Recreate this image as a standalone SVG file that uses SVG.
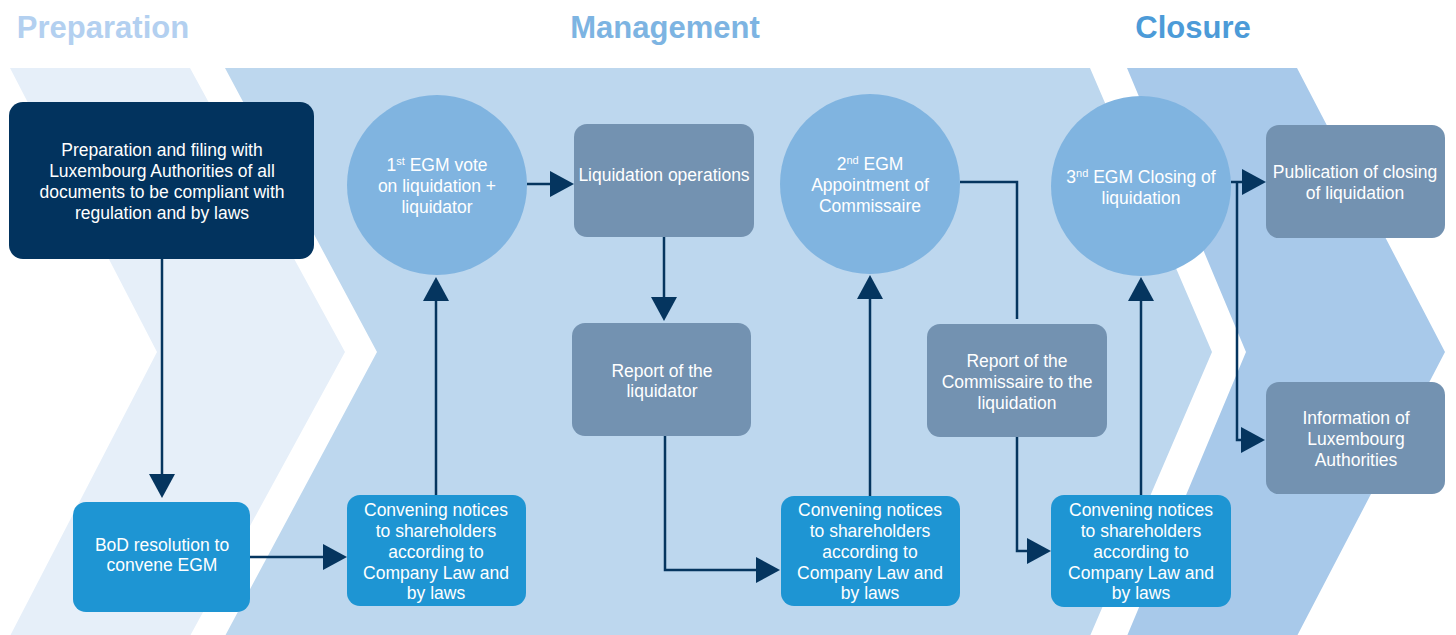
<svg xmlns="http://www.w3.org/2000/svg" width="1456" height="635" viewBox="0 0 1456 635">
<defs>
<style>
.t{font-family:"Liberation Sans",Arial,sans-serif;font-size:17.5px;fill:#ffffff;text-anchor:middle}
.sup{font-size:11px}
.h{font-family:"Liberation Sans",Arial,sans-serif;font-size:31px;font-weight:bold;text-anchor:middle}
.dark{fill:#02335E}
.blue{fill:#1E95D3}
.gray{fill:#7392B1}
.circ{fill:#80B4E0}
.c{fill:none;stroke:#05355F;stroke-width:2.5}
.a{marker-end:url(#ah)}
</style>
<marker id="ah" markerUnits="userSpaceOnUse" markerWidth="24" markerHeight="26" viewBox="0 0 24 26" refX="12" refY="13" orient="auto">
<path d="M0,0 L24,13 L0,26 Z" fill="#05355F"/>
</marker>
</defs>
<rect width="1456" height="635" fill="#ffffff"/>
<g id="background">
<polygon points="10,68 190,68 345,352 190,636 10,636 157,352" fill="#E6EFF9"/>
<polygon points="225,68 1090,68 1212,352 1090,636 225,636 377,352" fill="#BDD7EE"/>
<polygon points="1127,68 1297,68 1445,352 1297,636 1127,636 1246,352" fill="#A8C9EA"/>
</g>
<g id="titles">
<text class="h" x="103" y="38" fill="#B3D0F0">Preparation</text>
<text class="h" x="665" y="38" fill="#7DB4E2">Management</text>
<text class="h" x="1193" y="38" fill="#4C9BD8">Closure</text>
</g>
<g id="connectors">
<path class="c a" d="M162,259 V486"/>
<path class="c a" d="M250,557 H335"/>
<path class="c a" d="M436,495 V289"/>
<path class="c a" d="M527,184 H562"/>
<path class="c a" d="M664,237 V309"/>
<path class="c a" d="M665,436 V570 H768"/>
<path class="c a" d="M870,496 V287"/>
<path class="c" d="M960,182 H1017 V319"/>
<path class="c a" d="M1017,437 V551 H1039"/>
<path class="c a" d="M1141,495 V289"/>
<path class="c a" d="M1231,182 H1254"/>
<path class="c a" d="M1237,182 V440 H1253"/>
</g>
<g id="prep">
<rect class="dark" x="9" y="102" width="305" height="157" rx="14"/>
<text class="t" x="162" y="156">Preparation and filing with</text>
<text class="t" x="162" y="177">Luxembourg Authorities of all</text>
<text class="t" x="162" y="198">documents to be compliant with</text>
<text class="t" x="162" y="219">regulation and by laws</text>
</g>
<g id="bod">
<rect class="blue" x="73" y="502" width="177" height="110" rx="13"/>
<text class="t" x="162" y="551">BoD resolution to</text>
<text class="t" x="162" y="571">convene EGM</text>
</g>
<g id="conv1">
<rect class="blue" x="347" y="495" width="179" height="111" rx="13"/>
<text class="t" x="436" y="516">Convening notices</text>
<text class="t" x="436" y="537">to shareholders</text>
<text class="t" x="436" y="558">according to</text>
<text class="t" x="436" y="579">Company Law and</text>
<text class="t" x="436" y="599">by laws</text>
</g>
<g id="egm1">
<circle class="circ" cx="437" cy="185" r="90"/>
<text class="t" x="437" y="171">1<tspan class="sup" dy="-6">st</tspan><tspan dy="6"> EGM vote</tspan></text>
<text class="t" x="437" y="192">on liquidation +</text>
<text class="t" x="437" y="213">liquidator</text>
</g>
<g id="liqops">
<rect class="gray" x="574" y="124" width="180" height="113" rx="13"/>
<text class="t" x="664" y="181">Liquidation operations</text>
</g>
<g id="report">
<rect class="gray" x="572" y="323" width="179" height="113" rx="13"/>
<text class="t" x="662" y="377">Report of the</text>
<text class="t" x="662" y="397">liquidator</text>
</g>
<g id="conv2">
<rect class="blue" x="781" y="496" width="179" height="110" rx="13"/>
<text class="t" x="870" y="516">Convening notices</text>
<text class="t" x="870" y="537">to shareholders</text>
<text class="t" x="870" y="558">according to</text>
<text class="t" x="870" y="579">Company Law and</text>
<text class="t" x="870" y="599">by laws</text>
</g>
<g id="egm2">
<circle class="circ" cx="870" cy="184" r="90"/>
<text class="t" x="870" y="170">2<tspan class="sup" dy="-6">nd</tspan><tspan dy="6"> EGM</tspan></text>
<text class="t" x="870" y="191">Appointment of</text>
<text class="t" x="870" y="212">Commissaire</text>
</g>
<g id="repcomm">
<rect class="gray" x="927" y="324" width="180" height="113" rx="13"/>
<text class="t" x="1017" y="367">Report of the</text>
<text class="t" x="1017" y="388">Commissaire to the</text>
<text class="t" x="1017" y="409">liquidation</text>
</g>
<g id="conv3">
<rect class="blue" x="1051" y="495" width="180" height="112" rx="13"/>
<text class="t" x="1141" y="516">Convening notices</text>
<text class="t" x="1141" y="537">to shareholders</text>
<text class="t" x="1141" y="558">according to</text>
<text class="t" x="1141" y="579">Company Law and</text>
<text class="t" x="1141" y="599">by laws</text>
</g>
<g id="egm3">
<circle class="circ" cx="1141" cy="186" r="90"/>
<text class="t" x="1141" y="183">3<tspan class="sup" dy="-6">nd</tspan><tspan dy="6"> EGM Closing of</tspan></text>
<text class="t" x="1141" y="204">liquidation</text>
</g>
<g id="publication">
<rect class="gray" x="1266" y="125" width="179" height="113" rx="13"/>
<text class="t" x="1355" y="178">Publication of closing</text>
<text class="t" x="1355" y="199">of liquidation</text>
</g>
<g id="information">
<rect class="gray" x="1266" y="382" width="179" height="112" rx="13"/>
<text class="t" x="1356" y="424">Information of</text>
<text class="t" x="1356" y="445">Luxembourg</text>
<text class="t" x="1356" y="466">Authorities</text>
</g>
</svg>
